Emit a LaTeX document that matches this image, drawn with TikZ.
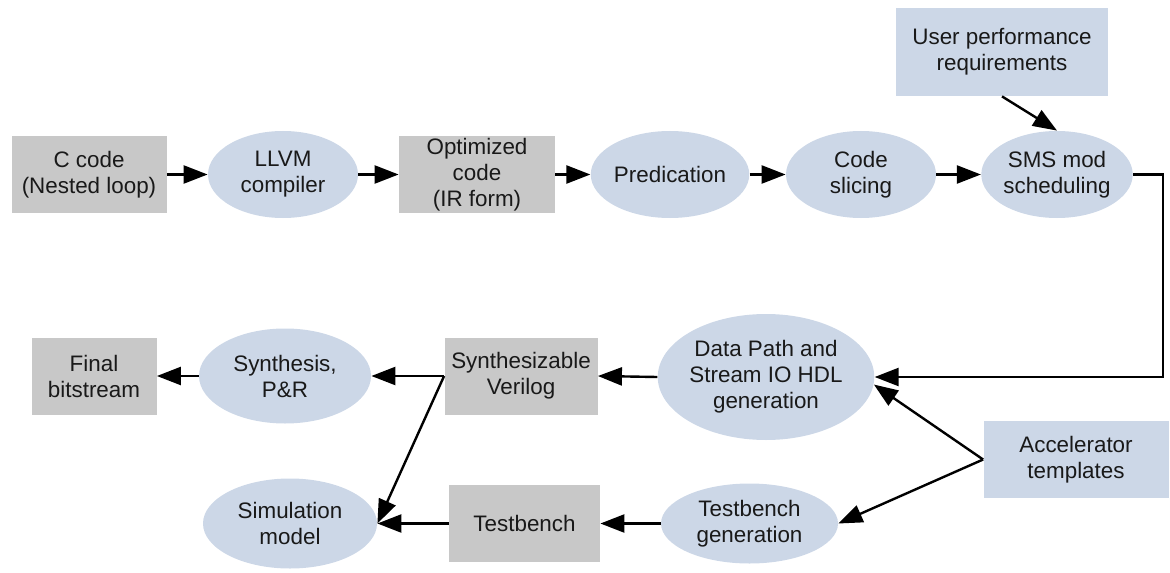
\documentclass[tikz,border=0pt]{standalone}
\usepackage{fontspec}
\setmainfont{Liberation Sans}
\usetikzlibrary{shapes.geometric,arrows.meta}
\definecolor{boxgray}{RGB}{200, 200, 200}
\definecolor{paleblue}{RGB}{204, 215, 231}
\definecolor{inkblack}{RGB}{25, 25, 25}
\tikzset{
  stage/.style={rectangle, fill=boxgray, inner sep=0pt, align=center, text=inkblack, font=\fontsize{11.2}{13}\selectfont},
  tool/.style={ellipse, fill=paleblue, inner sep=0pt, align=center, text=inkblack, font=\fontsize{11.2}{13}\selectfont},
  source/.style={rectangle, fill=paleblue, inner sep=0pt, align=center, text=inkblack, font=\fontsize{11.2}{13}\selectfont},
  flow/.style={draw=black, line width=1.2pt, -{Triangle[length=12pt,width=9pt]}}
}

\begin{document}
\begin{tikzpicture}[x=0.5pt, y=-0.5pt]
            \useasboundingbox (0,0) rectangle (1170,572);
            % top row
            \node[stage,  minimum width=77.5pt,  minimum height=38.5pt] (ccode)       at (  89.0, 174.5) {C code\\(Nested loop)};
            \node[tool,   minimum width=75pt,    minimum height=43.5pt] (llvm)        at ( 283.0, 174.5) {LLVM\\compiler};
            \node[stage,  minimum width=78pt,    minimum height=38.5pt] (optcode)     at ( 477.0, 174.5) {Optimized\\code\\(IR form)};
            \node[tool,   minimum width=75pt,    minimum height=43.5pt] (predication) at ( 670.0, 174.5) {Predication};
            \node[tool,   minimum width=75pt,    minimum height=43.5pt] (slicing)     at ( 861.0, 174.5) {Code\\slicing};
            \node[tool,   minimum width=74.5pt,  minimum height=43.5pt] (sms)         at (1057.0, 174.5) {SMS mod\\scheduling};
            \node[source, minimum width=106pt,   minimum height=44pt]   (userreq)     at (1002.0,  52.0) {User performance\\requirements};
            % HDL row
            \node[tool,   minimum width=105.5pt, minimum height=63pt]   (datapath)    at ( 766.0, 377.0) {Data Path and\\Stream IO HDL\\generation};
            \node[stage,  minimum width=76.5pt,  minimum height=38.5pt] (verilog)     at ( 521.0, 376.0) {Synthesizable\\Verilog};
            \node[tool,   minimum width=86pt,    minimum height=47.5pt] (synth)       at ( 285.0, 376.0) {Synthesis,\\P\&R};
            \node[stage,  minimum width=62.5pt,  minimum height=38.5pt] (final)       at (  94.0, 376.0) {Final\\bitstream};
            % testbench row
            \node[source, minimum width=92.5pt,  minimum height=38.5pt] (accel)       at (1076.0, 459.5) {Accelerator\\templates};
            \node[tool,   minimum width=88.5pt,  minimum height=40pt]   (tbgen)       at ( 749.5, 523.5) {Testbench\\generation};
            \node[stage,  minimum width=75.5pt,  minimum height=38.5pt] (testbench)   at ( 524.5, 523.5) {Testbench};
            \node[tool,   minimum width=87pt,    minimum height=45pt]   (simmodel)    at ( 290.0, 523.5) {Simulation\\model};
            \coordinate (turn) at (1163, 377);

            \draw[flow] (ccode) -- (llvm);
            \draw[flow] (llvm) -- (optcode);
            \draw[flow] (optcode) -- (predication);
            \draw[flow] (predication) -- (slicing);
            \draw[flow] (slicing) -- (sms);
            \draw[flow] (userreq.south) -- (sms.north);
            \draw[flow] (sms.east) -| (turn) -- (datapath.east);
            \draw[flow] (datapath.west) -- (verilog.east);
            \draw[flow] (verilog.west) -- (synth.east);
            \draw[flow] (verilog.west) -- (simmodel.east);
            \draw[flow] (synth.west) -- (final.east);
            \draw[flow] (accel.west) -- (datapath.-4);
            \draw[flow] (accel.west) -- (tbgen.east);
            \draw[flow] (tbgen.west) -- (testbench.east);
            \draw[flow] (testbench.west) -- (simmodel.east);
        \end{tikzpicture}
\end{document}
